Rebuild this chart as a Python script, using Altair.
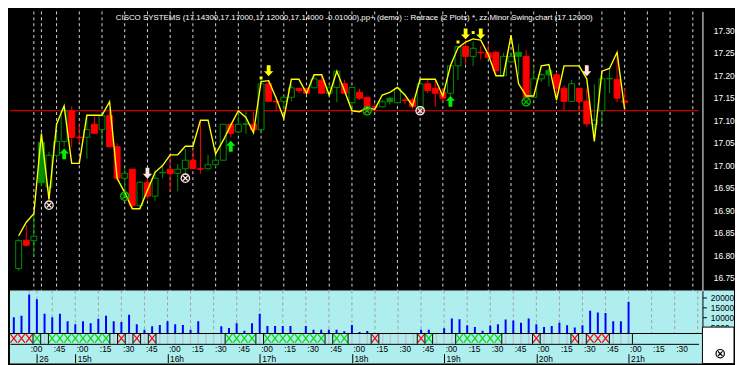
import altair as alt
import pandas as pd

# ---------------- data ----------------
idx = list(range(-5, 76))  # 5-minute bars, 0 = 14:45 on the 26th

opens = [16.770, 16.833, 16.832, 16.961, 16.951, 17.022, 17.053, 17.121, 17.062, 17.062,
         17.091, 17.079, 17.110, 17.041, 16.971, 16.991, 16.910, 16.961, 16.931, 16.983,
         16.991, 16.982, 16.992, 17.011, 16.992, 16.992, 17.001, 17.011, 17.091, 17.074,
         17.091, 17.091, 17.079, 17.181, 17.142, 17.142, 17.151, 17.171, 17.171, 17.172,
         17.189, 17.160, 17.173, 17.181, 17.139, 17.162, 17.151, 17.130, 17.130, 17.141,
         17.139, 17.145, 17.145, 17.130, 17.181, 17.171, 17.162, 17.160, 17.221, 17.264,
         17.242, 17.251, 17.250, 17.251, 17.199, 17.230, 17.242, 17.242, 17.151, 17.192,
         17.201, 17.201, 17.171, 17.142, 17.171, 17.142, 17.090, 17.121, 17.192, 17.191,
         17.143]
highs = [16.835, 16.867, 16.892, 17.071, 17.029, 17.074, 17.131, 17.131, 17.091, 17.111,
         17.108, 17.111, 17.125, 17.049, 16.993, 16.991, 16.965, 16.975, 16.989, 17.001,
         17.021, 17.003, 17.036, 17.032, 17.101, 17.023, 17.020, 17.091, 17.091, 17.120,
         17.120, 17.118, 17.190, 17.190, 17.153, 17.155, 17.180, 17.171, 17.171, 17.200,
         17.200, 17.180, 17.209, 17.190, 17.173, 17.170, 17.151, 17.138, 17.145, 17.152,
         17.171, 17.150, 17.150, 17.191, 17.191, 17.191, 17.170, 17.222, 17.264, 17.278,
         17.275, 17.265, 17.270, 17.255, 17.250, 17.250, 17.270, 17.256, 17.220, 17.205,
         17.216, 17.207, 17.178, 17.190, 17.171, 17.170, 17.180, 17.200, 17.214, 17.250,
         17.170]
lows = [16.765, 16.819, 16.796, 16.953, 16.921, 17.014, 17.042, 17.040, 17.049, 17.014,
        17.071, 17.042, 17.041, 16.965, 16.935, 16.905, 16.905, 16.925, 16.921, 16.971,
        16.942, 16.942, 16.981, 16.992, 16.981, 16.990, 16.995, 17.011, 17.062, 17.074,
        17.070, 17.074, 17.070, 17.142, 17.121, 17.125, 17.142, 17.160, 17.160, 17.172,
        17.160, 17.150, 17.140, 17.160, 17.120, 17.145, 17.120, 17.120, 17.128, 17.135,
        17.139, 17.135, 17.125, 17.125, 17.160, 17.130, 17.140, 17.140, 17.190, 17.225,
        17.220, 17.235, 17.239, 17.200, 17.199, 17.228, 17.199, 17.151, 17.151, 17.185,
        17.175, 17.140, 17.121, 17.142, 17.121, 17.085, 17.060, 17.090, 17.160, 17.140,
        17.120]
closes = [16.832, 16.822, 16.842, 17.051, 17.022, 17.053, 17.121, 17.062, 17.061, 17.079,
          17.071, 17.110, 17.041, 16.971, 16.982, 16.910, 16.962, 16.931, 16.971, 16.984,
          16.981, 16.991, 17.011, 16.992, 16.991, 17.001, 17.011, 17.091, 17.071, 17.091,
          17.092, 17.079, 17.181, 17.142, 17.141, 17.151, 17.172, 17.166, 17.160, 17.192,
          17.160, 17.172, 17.209, 17.160, 17.173, 17.149, 17.130, 17.129, 17.141, 17.149,
          17.171, 17.144, 17.130, 17.181, 17.166, 17.160, 17.149, 17.221, 17.264, 17.242,
          17.260, 17.250, 17.239, 17.210, 17.242, 17.242, 17.251, 17.151, 17.192, 17.201,
          17.211, 17.171, 17.142, 17.181, 17.142, 17.092, 17.100, 17.192, 17.193, 17.149,
          17.140]
solid_up = [-2, 44, 61, 65]

swing = [16.843, 16.873, 16.892, 17.070, 16.924, 17.091, 17.132, 17.004, 17.004, 17.111,
         17.111, 17.111, 17.141, 16.971, 16.939, 16.903, 16.903, 16.944, 16.984, 16.999,
         17.023, 17.023, 17.042, 17.042, 17.100, 17.100, 17.025, 17.055, 17.089, 17.121,
         17.106, 17.072, 17.186, 17.188, 17.149, 17.104, 17.191, 17.191, 17.160, 17.201,
         17.201, 17.156, 17.209, 17.166, 17.121, 17.119, 17.128, 17.124, 17.156, 17.162,
         17.173, 17.156, 17.132, 17.191, 17.191, 17.191, 17.154, 17.221, 17.261, 17.274,
         17.281, 17.278, 17.246, 17.199, 17.199, 17.289, 17.181, 17.154, 17.154, 17.221,
         17.224, 17.145, 17.221, 17.221, 17.221, 17.192, 17.053, 17.209, 17.215, 17.251,
         17.124]

volume = [10140, 10940, 21270, 18920, 11880, 10140, 11880, 8260, 6710, 8260,
          7180, 9390, 10940, 8260, 7790, 11410, 6710, 4040, 5770, 6390,
          8260, 6710, 6390, 4040, 8260, 2490, 2200, 5770, 4980, 7180,
          3570, 7180, 11880, 5920, 5920, 5920, 5920, 2490, 5920, 4040,
          4040, 4040, 4040, 3290, 6390, 2960, 3430, 2490, 2490, 2490,
          1500, 1500, 2490, 4040, 4040, 2490, 4830, 9530, 9200, 6240,
          5450, 3570, 6100, 6710, 9060, 8590, 7510, 9530, 6710, 5450,
          5920, 7510, 6240, 5160, 6240, 13290, 12490, 12210, 8260, 8260,
          17650]

strip_state = (["r"] * 3 + ["g"] + ["n"] + ["g"] * 8 + ["n", "r", "n", "r", "n", "r"] +
               ["n"] * 9 + ["g"] * 4 + ["n"] + ["g"] * 8 + ["n"] + ["g"] * 2 + ["n"] * 3 +
               ["r"] + ["n"] * 5 + ["r", "g"] + ["n"] * 3 + ["g"] * 6 + ["n"] * 4 + ["r"] +
               ["n"] * 4 + ["r", "n"] + ["r"] * 3 + ["n"] * 3)

last_price = 17.121

up_arrow_i = [1, 23, 52]
up_arrow_p = [17.025, 17.042, 17.142]
white_down_i = [12, 70]
white_down_p = [16.982, 17.210]
yellow_down_i = [28, 54, 56]
yellow_down_p = [17.210, 17.292, 17.292]
yellow_dot_i = [27, 53, 55]
yellow_dot_p = [17.194, 17.274, 17.295]
xc_i = [-1, 9, 17, 41, 48, 62]
xc_p = [16.911, 16.931, 16.971, 17.121, 17.121, 17.141]
xc_kind = ["w", "g", "w", "g", "w", "g"]

grid_i = [-3, -2] + list(range(0, 85, 3))
min_ticks = [-3] + list(range(0, 82, 3))
min_labels = [":00", ":45", ":00", ":15", ":30", ":45", ":00", ":15", ":30", ":45",
              ":00", ":15", ":30", ":45", ":00", ":15", ":30", ":45", ":00", ":15",
              ":30", ":45", ":00", ":15", ":30", ":45", ":00", ":15", ":30"]
hour_ticks = [-2, 3, 15, 27, 39, 51, 63, 75]
hour_labels = ["26", "15h", "16h", "17h", "18h", "19h", "20h", "21h"]

price_ticks = [16.75, 16.80, 16.85, 16.90, 16.95, 17.00, 17.05, 17.10, 17.15, 17.20, 17.25, 17.30]
vol_ticks = [5000, 10000, 15000, 20000]

title_text = ("CISCO SYSTEMS (17.14300,17.17000,17.12000,17.14000 -0.01000),pp+ (demo) :: "
              "Retrace (2 Plots) *, zz Minor Swing chart (17.12000)")

# ---------------- frames ----------------
df = pd.DataFrame({"i": idx, "o": opens, "h": highs, "l": lows, "c": closes,
                   "sw": swing, "vol": volume, "st": strip_state})
df["dir"] = ["up" if c > o else "down" for o, c in zip(df.o, df.c)]
df["fk"] = [("upsolid" if i in solid_up else "up") if d == "up" else "down"
            for i, d in zip(df.i, df["dir"])]
df["z"] = 0.5

bounds = []
for k in range(1, len(strip_state)):
    a, b = strip_state[k - 1], strip_state[k]
    if a != b:
        bounds.append(idx[k] - 0.5)
bounds.append(idx[-1] + 0.5)

# ---------------- layout ----------------
W, H1, H2, H3 = 698, 283, 43, 11
FONT = "Liberation Sans"
CYAN = "#AFEEEE"
GREEN = "#009000"

xs = alt.Scale(domain=[-5.5, 84.1], nice=False, zero=False)
ysp = alt.Scale(domain=[16.721, 17.342], nice=False, zero=False)
ysv = alt.Scale(domain=[2490, 23150], nice=False, zero=False)
yss = alt.Scale(domain=[0, 1], nice=False, zero=False)

def X(f):
    return alt.X(f, scale=xs, axis=None)

def YP(f, axis=None):
    return alt.Y(f, scale=ysp, axis=axis)

dir_stroke = alt.Scale(domain=["down", "up"], range=["#FF0000", GREEN])
fill_scale = alt.Scale(domain=["down", "up", "upsolid"], range=["#FF0000", "#000000", GREEN])

DOWN = "M-0.35,-1L0.35,-1L0.35,0.1L0.85,0.1L0,1L-0.85,0.1L-0.35,0.1Z"
UP = "M-0.35,1L0.35,1L0.35,-0.1L0.85,-0.1L0,-1L-0.85,-0.1L-0.35,-0.1Z"
XCIRC = "M-1,0A1,1,0,1,1,1,0A1,1,0,1,1,-1,0ZM-0.55,-0.55L0.55,0.55M0.55,-0.55L-0.55,0.55"
XCELL = "M-1,-1.25L1,1.25M1,-1.25L-1,1.25"

price_axis = alt.Axis(orient="right", values=price_ticks, format=".2f", labelColor="white",
                      domainColor="white", ticks=False, grid=False, offset=4, labelPadding=11,
                      labelFontSize=8.5, labelFont=FONT, title=None)

grid = alt.Chart(pd.DataFrame({"g": grid_i})).mark_rule(
    color="#D8D8D8", strokeDash=[3, 3], strokeWidth=1).encode(x=X("g:Q"))
hline = alt.Chart(pd.DataFrame({"p": [last_price]})).mark_rule(color="#FF0000").encode(y=YP("p:Q"))
base = alt.Chart(df)
wicks = base.mark_rule(strokeWidth=1).encode(
    x=X("i:Q"), y=YP("l:Q", price_axis), y2="h:Q",
    color=alt.Color("dir:N", scale=dir_stroke, legend=None))
bodies = base.mark_bar(width=6, strokeWidth=1).encode(
    x=X("i:Q"), y=YP("o:Q"), y2="c:Q",
    fill=alt.Fill("fk:N", scale=fill_scale, legend=None),
    stroke=alt.Stroke("dir:N", scale=dir_stroke, legend=None))
swing_line = base.mark_line(color="#FFFF00", strokeWidth=1.4).encode(x=X("i:Q"), y=YP("sw:Q"))

def markers(ii, pp, shape, color, size, filled=True):
    return alt.Chart(pd.DataFrame({"i": ii, "p": pp})).mark_point(
        shape=shape, filled=filled, color=color, size=size, opacity=1,
        strokeWidth=1.3).encode(x=X("i:Q"), y=YP("p:Q"))

up_m = markers(up_arrow_i, up_arrow_p, UP, "#00EE00", 121)
wd_m = markers(white_down_i, white_down_p, DOWN, "#FFE4E1", 121)
yd_m = markers(yellow_down_i, yellow_down_p, DOWN, "#FFFF00", 121)
dot_m = markers(yellow_dot_i, yellow_dot_p, "square", "#FFFF00", 9)
xc_m = alt.Chart(pd.DataFrame({"i": xc_i, "p": xc_p, "k": xc_kind})).mark_point(
    shape=XCIRC, filled=False, size=72, strokeWidth=1.3, opacity=1).encode(
    x=X("i:Q"), y=YP("p:Q"),
    stroke=alt.Stroke("k:N", scale=alt.Scale(domain=["w", "g"], range=["#FFE4E1", "#00C000"]), legend=None))
title_m = alt.Chart(pd.DataFrame({"t": [title_text], "i": [39.3], "p": [17.327]})).mark_text(
    color="white", font=FONT, fontSize=8, align="center", baseline="middle").encode(
    text="t:N", x=X("i:Q"), y=YP("p:Q"))

price = alt.layer(grid, hline, wicks, bodies, swing_line, up_m, wd_m, yd_m, dot_m, xc_m, title_m
                  ).resolve_axis(x="independent", y="independent").resolve_scale(
    color="independent", fill="independent", stroke="independent").properties(width=W, height=H1)

# volume
vol_axis = alt.Axis(orient="right", values=vol_ticks, format="d", labelColor="black",
                    domainColor="black", tickColor="black", tickSize=4, offset=4, labelPadding=4,
                    labelFontSize=8.5, labelFont=FONT, grid=False, title=None, zindex=1)
vbg = alt.Chart(pd.DataFrame({"a": [0]})).mark_rect(color=CYAN).encode(
    x=alt.value(0), x2=alt.value(W + 36), y=alt.value(0), y2=alt.value(H2))
vgrid = alt.Chart(pd.DataFrame({"g": grid_i})).mark_rule(
    color="#A0A0A0", strokeDash=[3, 3], strokeWidth=1).encode(x=X("g:Q"))
vbars = base.mark_rule(color="#0000FF", strokeWidth=2, clip=True).encode(
    x=X("i:Q"), y=alt.Y("vol:Q", scale=ysv, axis=vol_axis), y2=alt.value(H2))
volp = alt.layer(vbg, vgrid, vbars).resolve_axis(x="independent", y="independent").properties(
    width=W, height=H2)

# strip + time axes
def lbl_expr(labels, ticks):
    return ("[" + ",".join("'" + s + "'" for s in labels) + "][indexof([" +
            ",".join(str(t) for t in ticks) + "], datum.value)]")

min_axis = alt.Axis(orient="bottom", values=min_ticks, labelExpr=lbl_expr(min_labels, min_ticks),
                    domain=True, domainColor="black", ticks=False, labelAlign="left",
                    labelBaseline="top", labelPadding=1, labelOffset=1, labelColor="black",
                    labelFontSize=8.5, labelFont=FONT, grid=False, title=None, zindex=1,
                    labelOverlap=False, labelFlush=False)
hour_axis = alt.Axis(orient="bottom", offset=10, values=hour_ticks,
                     labelExpr=lbl_expr(hour_labels, hour_ticks), domain=False, ticks=True,
                     tickColor="black", tickSize=9, labelAlign="left", labelBaseline="top",
                     labelPadding=-8, labelOffset=2, labelColor="black", labelFontSize=8.5,
                     labelFont=FONT, grid=False, title=None, zindex=1, labelOverlap=False,
                     labelFlush=False)

def YS(f):
    return alt.Y(f, scale=yss, axis=None)

sbg = alt.Chart(pd.DataFrame({"a": [0]})).mark_rect(color=CYAN).encode(
    x=alt.value(0), x2=alt.value(W + 36), y=alt.value(0), y2=alt.value(H3 + 20))
stop = alt.Chart(pd.DataFrame({"a": [0]})).mark_rule(color="black", strokeWidth=1.2).encode(
    x=alt.value(0), x2=alt.value(W + 4), y=alt.value(0.5))
sdf = df[df.st == "n"]
sneu = alt.Chart(sdf).mark_rule(color="#C4C4C4", strokeWidth=1.5).encode(
    x=X("i:Q"), y=alt.value(1), y2=alt.value(H3))
cdf = df[df.st != "n"]
scol = alt.Chart(cdf).mark_point(shape=XCELL, filled=False, size=46, strokeWidth=1.2, opacity=1).encode(
    x=X("i:Q"), y=YS("z:Q"),
    color=alt.Color("st:N", scale=alt.Scale(domain=["g", "r"], range=["#00DD00", "#FF0000"]), legend=None))
ssep = alt.Chart(pd.DataFrame({"b": bounds})).mark_rule(color="black", strokeWidth=1).encode(
    x=X("b:Q"), y=alt.value(0), y2=alt.value(H3))
minl = alt.Chart(pd.DataFrame({"t": min_ticks, "z": [0.5] * len(min_ticks)})).mark_point(opacity=0).encode(
    x=alt.X("t:Q", scale=xs, axis=min_axis), y=YS("z:Q"))
hourl = alt.Chart(pd.DataFrame({"t": hour_ticks, "z": [0.5] * len(hour_ticks)})).mark_point(opacity=0).encode(
    x=alt.X("t:Q", scale=xs, axis=hour_axis), y=YS("z:Q"))
box = alt.Chart(pd.DataFrame({"a": [0]})).mark_rect(fill="white", stroke="black", strokeWidth=1).encode(
    x=alt.value(W + 4), x2=alt.value(W + 36), y=alt.value(-6), y2=alt.value(H3 + 20))
boxsym = alt.Chart(pd.DataFrame({"a": [0]})).mark_point(
    shape=XCIRC, filled=False, size=72, strokeWidth=1.2, color="black", opacity=1).encode(
    x=alt.value(W + 22), y=alt.value(H3 + 10))

strip = alt.layer(sbg, stop, sneu, scol, ssep, minl, hourl, box, boxsym).resolve_axis(
    x="independent", y="independent").properties(width=W, height=H3)

chart = alt.vconcat(price, volp, strip, spacing=0, bounds="flush").properties(
    background="black", padding=0).configure_view(strokeWidth=0)

chart.save("out.html", embed_options={"renderer": "svg", "actions": False})
